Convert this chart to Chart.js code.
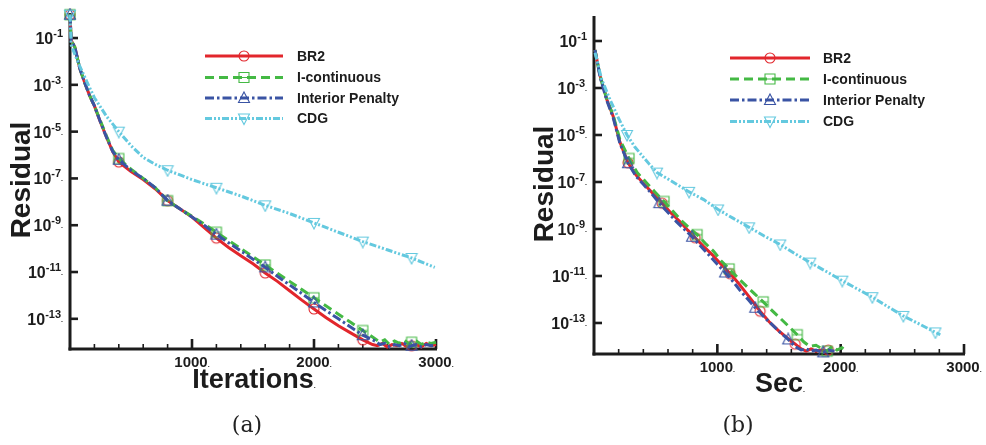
<!DOCTYPE html>
<html><head><meta charset="utf-8">
<script src="https://cdn.jsdelivr.net/npm/chart.js@4.4.1/dist/chart.umd.min.js"></script>
<style>
html,body{margin:0;padding:0;background:#fff;}
#wrap{position:relative;width:986px;height:445px;overflow:hidden;background:#fff;}
canvas{position:absolute;top:0;}
</style></head><body>
<div id="wrap">
<canvas id="ca" width="493" height="445" style="left:0px"></canvas>
<canvas id="cb" width="493" height="445" style="left:493px"></canvas>
</div>
<script>
// ---------- names / ticks ----------
const seriesNames = ['BR2', 'I-continuous', 'Interior Penalty', 'CDG'];
const xTickValues = [1000, 2000, 3000];
const xTickLabels = ['1000', '2000', '3000'];
const yTickExps = [-1, -3, -5, -7, -9, -11, -13];
const yTickTails = ['', '.', '.', '.', '.', '.', '.'];
const captions = ['(a)', '(b)'];
const xTitles = ['Iterations', 'Sec'];
const yTitle = 'Residual';

// ---------- (a) residual vs iterations (values are log10 of residual) ----------
const itBR2 = [0,10,40,80,120,160,200,250,300,350,400,500,600,700,800,900,1000,1100,1200,1300,1400,1500,1600,1700,1800,1900,2000,2100,2200,2300,2400,2480,2520,2560,2600,2640,2680,2720,2760,2800,2840,2880,2920,2960,3000];
const lgBR2 = [0,-1.1,-1.4,-2.3,-2.9,-3.45,-3.9,-4.6,-5.25,-5.85,-6.3,-6.7,-7.05,-7.45,-7.95,-8.3,-8.65,-9.1,-9.55,-9.95,-10.3,-10.65,-11.04,-11.4,-11.8,-12.2,-12.58,-12.95,-13.3,-13.6,-13.9,-14.1,-14.15,-14.05,-14.2,-14.1,-14.15,-14.05,-14.2,-14.15,-14.1,-14.2,-14.05,-14.15,-14.1];
const itIC = [0,10,40,80,120,160,200,250,300,350,400,500,600,700,800,900,1000,1100,1200,1300,1400,1500,1600,1700,1800,1900,2000,2100,2200,2300,2400,2500,2540,2580,2620,2660,2700,2740,2780,2800,2840,2880,2920,2960,3000];
const lgIC = [0,-1.1,-1.4,-2.3,-2.9,-3.45,-3.9,-4.55,-5.2,-5.8,-6.15,-6.6,-7.0,-7.4,-7.95,-8.3,-8.62,-8.95,-9.3,-9.65,-10.0,-10.35,-10.7,-11.05,-11.4,-11.75,-12.1,-12.45,-12.8,-13.15,-13.5,-13.85,-14.0,-13.9,-14.1,-13.95,-14.05,-13.9,-14.1,-14.0,-13.95,-14.1,-14.0,-14.05,-14.0];
const itIP = [0,10,40,80,120,160,200,250,300,350,400,500,600,700,800,900,1000,1100,1200,1300,1400,1500,1600,1700,1800,1900,2000,2100,2200,2300,2400,2500,2540,2580,2620,2660,2700,2740,2780,2800,2840,2880,2920,2960,3000];
const lgIP = [0,-1.1,-1.4,-2.3,-2.9,-3.45,-3.9,-4.6,-5.25,-5.85,-6.2,-6.65,-7.0,-7.4,-7.95,-8.3,-8.65,-9.0,-9.4,-9.75,-10.1,-10.45,-10.8,-11.18,-11.55,-11.92,-12.3,-12.65,-13.0,-13.35,-13.7,-13.95,-14.1,-14.05,-14.2,-14.1,-14.15,-14.05,-14.2,-14.15,-14.1,-14.2,-14.1,-14.15,-14.1];
const itCDG = [0,10,40,80,150,200,300,400,500,600,700,800,1000,1200,1400,1600,1800,2000,2200,2400,2600,2800,2990];
const lgCDG = [0,-1.3,-1.7,-2.2,-3.0,-3.55,-4.35,-5.0,-5.6,-6.1,-6.4,-6.65,-7.05,-7.4,-7.75,-8.15,-8.5,-8.9,-9.3,-9.7,-10.05,-10.4,-10.8];
const markItA = [0,400,800,1200,1600,2000,2400,2800];

// ---------- (b) residual vs seconds ----------
const secBR2 = [8,50,105,155,210,276,340,400,470,552,620,700,760,820,890,960,1030,1104,1170,1230,1290,1347,1420,1500,1570,1632,1680,1720,1760,1800,1840,1880,1900];
const lgBR2b = [-1.38,-2.5,-3.5,-4.2,-5.3,-6.18,-6.7,-7.05,-7.45,-7.9,-8.3,-8.7,-9.05,-9.37,-9.75,-10.1,-10.5,-10.9,-11.3,-11.7,-12.1,-12.5,-12.95,-13.35,-13.65,-13.9,-14.1,-14.2,-14.1,-14.2,-14.15,-14.2,-14.15];
const markBR2b = [276,552,820,1104,1347,1632,1900];
const secIC = [8,50,105,155,210,284,350,420,490,568,640,710,770,836,900,970,1030,1096,1170,1240,1300,1372,1440,1510,1580,1648,1700,1750,1800,1850,1891,1930,1970,2010,2050];
const lgICb = [-1.38,-2.5,-3.5,-4.15,-5.2,-6.0,-6.6,-7.0,-7.4,-7.83,-8.25,-8.65,-8.95,-9.24,-9.6,-9.95,-10.35,-10.7,-11.1,-11.45,-11.75,-12.1,-12.45,-12.8,-13.15,-13.5,-13.8,-14.0,-13.95,-14.1,-14.2,-14.0,-14.15,-14.05,-14.2];
const markICb = [284,568,836,1096,1372,1648,1891];
const secIP = [8,50,105,155,210,276,340,400,460,530,600,670,730,795,860,930,1000,1063,1130,1190,1250,1307,1380,1440,1510,1575,1630,1680,1720,1760,1800,1859,1900,1950];
const lgIPb = [-1.38,-2.55,-3.55,-4.25,-5.35,-6.2,-6.75,-7.1,-7.45,-7.9,-8.3,-8.7,-9.0,-9.33,-9.7,-10.1,-10.5,-10.85,-11.25,-11.65,-12.0,-12.35,-12.75,-13.05,-13.4,-13.7,-14.0,-14.15,-14.1,-14.2,-14.15,-14.25,-14.15,-14.2];
const markIPb = [276,530,795,1063,1307,1575,1859];
const secCDG = [8,24,60,130,200,268,330,398,450,511,640,771,890,1006,1130,1258,1380,1510,1630,1753,1880,2013,2135,2257,2380,2508,2640,2768,2808];
const lgCDGb = [-1.5,-1.8,-2.6,-3.5,-4.3,-5.0,-5.5,-5.93,-6.25,-6.6,-7.0,-7.42,-7.75,-8.17,-8.55,-8.93,-9.3,-9.66,-10.05,-10.43,-10.8,-11.2,-11.55,-11.9,-12.3,-12.7,-13.05,-13.4,-13.5];
const markCDGb = [268,511,771,1006,1258,1510,1753,2013,2257,2508,2768];

// ---------- styles ----------
const colors = ['#e2262c', '#44b944', '#3a54a4', '#64c9df'];
const dashes = [[], [9, 5], [9, 3, 2.5, 3], [7, 2, 2, 2, 2, 2]];
const markerKinds = ['circle', 'square', 'up', 'down'];

function drawMarker(ctx, kind, cx, cy, color) {
  ctx.save();
  ctx.strokeStyle = color; ctx.lineWidth = 1.1; ctx.setLineDash([]);
  ctx.beginPath();
  if (kind === 'circle') { ctx.arc(cx, cy, 5, 0, Math.PI * 2); }
  else if (kind === 'square') { ctx.rect(cx - 5, cy - 5, 10, 10); ctx.moveTo(cx - 5, cy); ctx.lineTo(cx + 5, cy); }
  else if (kind === 'up') { ctx.moveTo(cx, cy - 6); ctx.lineTo(cx + 5.5, cy + 4.5); ctx.lineTo(cx - 5.5, cy + 4.5); ctx.closePath(); }
  else { ctx.moveTo(cx - 5.5, cy - 4.5); ctx.lineTo(cx + 5.5, cy - 4.5); ctx.lineTo(cx, cy + 6); ctx.closePath(); }
  ctx.stroke();
  ctx.restore();
}
function markerImage(kind, color) {
  const c = document.createElement('canvas'); c.width = 14; c.height = 14;
  drawMarker(c.getContext('2d'), kind, 7, 7, color);
  return c;
}

const FONT = '"Liberation Sans", Arial, Helvetica, sans-serif';

function axesPlugin(p) {
  return {
    id: 'axesPlugin',
    beforeDatasetsDraw(chart) {
      const ctx = chart.ctx, a = chart.chartArea, xs = chart.scales.x, ys = chart.scales.y;
      ctx.save();
      ctx.strokeStyle = '#1c1c1c'; ctx.lineCap = 'butt';
      // minor x ticks
      ctx.lineWidth = 1.6;
      for (let v = 200; v < 3000; v += 200) {
        if (v % 1000 === 0) continue;
        const x = xs.getPixelForValue(v);
        ctx.beginPath(); ctx.moveTo(x, a.bottom); ctx.lineTo(x, a.bottom - 5); ctx.stroke();
      }
      ctx.lineWidth = 2.6;
      xTickValues.forEach(v => {
        const x = xs.getPixelForValue(v);
        ctx.beginPath(); ctx.moveTo(x, a.bottom); ctx.lineTo(x, a.bottom - 10); ctx.stroke();
      });
      yTickExps.forEach(e => {
        const y = ys.getPixelForValue(Math.pow(10, e));
        ctx.beginPath(); ctx.moveTo(a.left, y); ctx.lineTo(a.left + 8, y); ctx.stroke();
      });
      ctx.lineWidth = 3;
      ctx.beginPath(); ctx.moveTo(a.left, a.top); ctx.lineTo(a.left, a.bottom + 1.5); ctx.stroke();
      ctx.beginPath(); ctx.moveTo(a.left - 1.5, a.bottom); ctx.lineTo(a.right + 1, a.bottom); ctx.stroke();
      ctx.restore();
    },
    afterDraw(chart) {
      const ctx = chart.ctx, a = chart.chartArea, xs = chart.scales.x, ys = chart.scales.y;
      ctx.save();
      ctx.fillStyle = '#1c1c1c';
      // y tick labels 10^e
      yTickExps.forEach((e, i) => {
        const y = ys.getPixelForValue(Math.pow(10, e));
        const base = '10', sup = String(e), tail = yTickTails[i];
        ctx.font = 'bold 16px ' + FONT; const wb = ctx.measureText(base).width;
        ctx.font = 'bold 11px ' + FONT; const ws = ctx.measureText(sup).width;
        ctx.font = 'bold 7px ' + FONT; const wt = tail ? ctx.measureText(tail).width : 0;
        const right = a.left - 7;
        let x = right - wb - ws - wt;
        ctx.textAlign = 'left'; ctx.textBaseline = 'alphabetic';
        ctx.font = 'bold 16px ' + FONT; ctx.fillText(base, x, y + 6);
        ctx.font = 'bold 11px ' + FONT; ctx.fillText(sup, x + wb, y - 1);
        if (tail) { ctx.font = 'bold 7px ' + FONT; ctx.fillText(tail, x + wb + ws, y + 3); }
      });
      // x tick labels
      xTickValues.forEach((v, i) => {
        const x = xs.getPixelForValue(v);
        ctx.font = 'bold 15px ' + FONT; ctx.textAlign = 'center'; ctx.textBaseline = 'alphabetic';
        const w = ctx.measureText(xTickLabels[i]).width;
        ctx.fillText(xTickLabels[i], x - 1, a.bottom + 18);
        ctx.font = 'bold 7px ' + FONT; ctx.textAlign = 'left';
        ctx.fillText('.', x - 1 + w / 2, a.bottom + 18);
      });
      // axis titles
      ctx.font = 'bold 28px ' + FONT; ctx.textAlign = 'center'; ctx.textBaseline = 'middle';
      ctx.save(); ctx.translate(p.yTitleX, p.yTitleY); ctx.rotate(-Math.PI / 2); ctx.fillText(yTitle, 0, 0); ctx.restore();
      const xc = (a.left + a.right) / 2;
      ctx.font = 'bold 27px ' + FONT; ctx.textAlign = 'center'; ctx.textBaseline = 'alphabetic';
      const wt = ctx.measureText(p.xTitle).width;
      ctx.fillText(p.xTitle, xc, p.xTitleBase);
      ctx.font = 'bold 7px ' + FONT; ctx.textAlign = 'left';
      ctx.fillText('.', xc + wt / 2, p.xTitleBase);
      // legend
      seriesNames.forEach((name, i) => {
        const y = p.legY[i];
        ctx.save();
        ctx.strokeStyle = colors[i]; ctx.lineWidth = 3; ctx.setLineDash(dashes[i]);
        ctx.beginPath(); ctx.moveTo(p.legX1, y); ctx.lineTo(p.legX2, y); ctx.stroke();
        ctx.restore();
        drawMarker(ctx, markerKinds[i], (p.legX1 + p.legX2) / 2, y, colors[i]);
        ctx.fillStyle = '#1c1c1c';
        ctx.font = 'bold 14px ' + FONT; ctx.textAlign = 'left'; ctx.textBaseline = 'middle';
        ctx.fillText(name, p.legText, y + 1);
      });
      // caption
      ctx.font = '22px "DejaVu Serif", "Liberation Serif", serif'; ctx.textAlign = 'center'; ctx.textBaseline = 'middle';
      ctx.fillStyle = '#222';
      ctx.fillText(p.caption, p.capX, 426);
      ctx.restore();
    }
  };
}

function makeChart(id, series, p) {
  const datasets = series.map((s, i) => ({
    label: seriesNames[i],
    data: s.x.map((v, k) => ({ x: v, y: Math.pow(10, s.lg[k]) })),
    borderColor: colors[i], borderWidth: 3, borderDash: dashes[i], borderCapStyle: 'butt',
    fill: false, tension: 0,
    pointStyle: markerImage(markerKinds[i], colors[i]),
    pointRadius: ctx => (ctx.raw && s.marks.includes(ctx.raw.x)) ? 6 : 0,
    pointHoverRadius: 0, pointBorderWidth: 0,
    clip: 12
  }));
  // draw order: BR2 underneath, others above
  datasets[0].order = 3; datasets[1].order = 2; datasets[2].order = 1; datasets[3].order = 0;
  return new Chart(document.getElementById(id), {
    type: 'line',
    data: { datasets },
    options: {
      responsive: false, animation: false, devicePixelRatio: 1,
      layout: { padding: p.pad },
      scales: {
        x: { type: 'linear', min: 0, max: 3000, display: false },
        y: { type: 'logarithmic', min: Math.pow(10, p.ymin), max: Math.pow(10, p.ymax), display: false }
      },
      plugins: { legend: { display: false }, tooltip: { enabled: false } }
    },
    plugins: [axesPlugin(p)]
  });
}

makeChart('ca', [
  { x: itBR2, lg: lgBR2, marks: markItA },
  { x: itIC, lg: lgIC, marks: markItA },
  { x: itIP, lg: lgIP, marks: markItA },
  { x: itCDG, lg: lgCDG, marks: markItA }
], {
  pad: { left: 70, right: 57, top: 13, bottom: 96 }, ymin: -14.29, ymax: 0.07,
  yTitleX: 22, yTitleY: 180, xTitle: xTitles[0], xTitleBase: 388,
  legY: [56, 77.5, 98, 118.5], legX1: 205, legX2: 283, legText: 297,
  caption: captions[0], capX: 247
});

makeChart('cb', [
  { x: secBR2, lg: lgBR2b, marks: markBR2b },
  { x: secIC, lg: lgICb, marks: markICb },
  { x: secIP, lg: lgIPb, marks: markIPb },
  { x: secCDG, lg: lgCDGb, marks: markCDGb }
], {
  pad: { left: 101, right: 22, top: 16, bottom: 91 }, ymin: -14.32, ymax: 0.064,
  yTitleX: 52, yTitleY: 184, xTitle: xTitles[1], xTitleBase: 392,
  legY: [58, 79, 100, 121.5], legX1: 237, legX2: 317, legText: 330,
  caption: captions[1], capX: 245
});
</script>
</body></html>
